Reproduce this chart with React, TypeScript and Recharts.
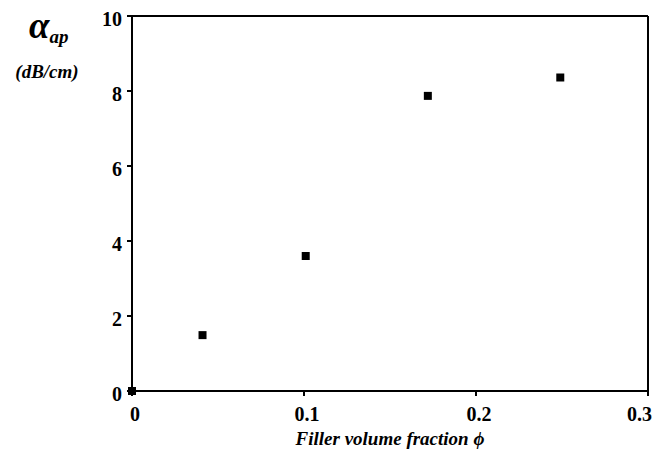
// Attenuation vs filler volume fraction: scatter of square markers with boxed axes

import { ScatterChart, Scatter, XAxis, YAxis } from "recharts";

const xValues = [0, 0.041, 0.101, 0.172, 0.249];
const yValues = [0, 1.49, 3.6, 7.87, 8.36];
const xTicks = [0, 0.1, 0.2, 0.3];
const yTicks = [0, 2, 4, 6, 8, 10];

const data = xValues.map((x, i) => ({ x, y: yValues[i] }));

const FONT = '"Liberation Serif", "Times New Roman", serif';
const AXIS_STROKE = { stroke: "#000", strokeWidth: 2 };

const tickText: React.CSSProperties = {
  fontFamily: FONT,
  fontWeight: 700,
  fontSize: 20,
  fill: "#000",
};

const italicText: React.CSSProperties = {
  fontFamily: FONT,
  fontWeight: 700,
  fontStyle: "italic",
  fill: "#000",
};

function BottomTick(props: any) {
  const { x, y, payload } = props;
  const last = payload.value === xTicks[xTicks.length - 1];
  return (
    <text
      x={last ? x + 7 : x + 3}
      y={y + 25}
      textAnchor={last ? "end" : "middle"}
      style={tickText}
    >
      {String(payload.value)}
    </text>
  );
}

function LeftTick(props: any) {
  const { x, y, payload } = props;
  return (
    <text x={x - 5} y={y + 10} textAnchor="end" style={tickText}>
      {String(payload.value)}
    </text>
  );
}

const EmptyTick = () => <g />;

function AlphaLabel() {
  return (
    <g>
      <text x={29} y={38} style={{ ...italicText, fontSize: 37 }}>
        α
        <tspan dy={5} style={{ fontSize: 19 }}>
          ap
        </tspan>
      </text>
      <text x={47} y={78} textAnchor="middle" style={{ ...italicText, fontSize: 19 }}>
        (dB/cm)
      </text>
    </g>
  );
}

export default function App() {
  return (
    <div style={{ position: "absolute", left: 0, top: 0, background: "#fff" }}>
      <ScatterChart
        width={655}
        height={461}
        margin={{ top: 0, right: 0, bottom: 0, left: 0 }}
      >
        <XAxis
          xAxisId="main"
          dataKey="x"
          type="number"
          domain={[0, 0.3]}
          ticks={xTicks}
          height={70}
          tickSize={5}
          tickMargin={0}
          axisLine={AXIS_STROKE}
          tickLine={AXIS_STROKE}
          tick={<BottomTick />}
          label={{
            value: "Filler volume fraction ϕ",
            position: "insideBottom",
            offset: 16,
            style: { ...italicText, fontSize: 19 },
          }}
        />
        <XAxis
          xAxisId="top"
          orientation="top"
          type="number"
          domain={[0, 0.3]}
          ticks={xTicks}
          height={16}
          tickSize={5}
          axisLine={AXIS_STROKE}
          tickLine={AXIS_STROKE}
          tick={<EmptyTick />}
        />
        <YAxis
          yAxisId="main"
          dataKey="y"
          type="number"
          domain={[0, 10]}
          ticks={yTicks}
          width={132}
          tickSize={5}
          tickMargin={0}
          axisLine={AXIS_STROKE}
          tickLine={AXIS_STROKE}
          tick={<LeftTick />}
          label={{ content: AlphaLabel }}
        />
        <YAxis
          yAxisId="right"
          orientation="right"
          type="number"
          domain={[0, 10]}
          ticks={yTicks}
          width={7}
          tickSize={5}
          axisLine={AXIS_STROKE}
          tickLine={AXIS_STROKE}
          tick={<EmptyTick />}
        />
        <Scatter
          xAxisId="main"
          yAxisId="main"
          data={data}
          shape="square"
          size={81}
          fill="#000"
          isAnimationActive={false}
        />
      </ScatterChart>
    </div>
  );
}
